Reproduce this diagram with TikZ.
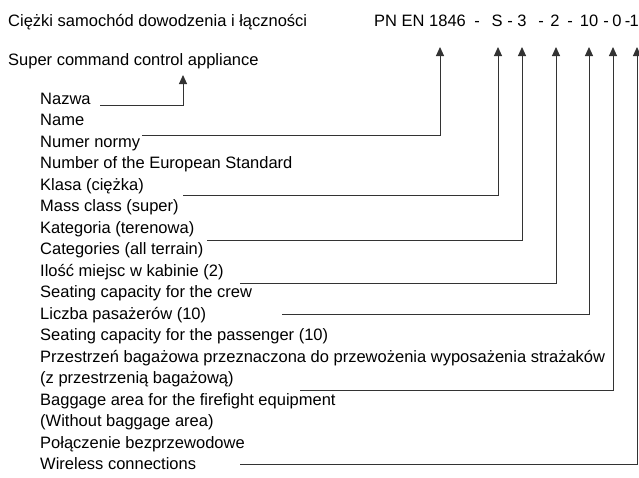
\documentclass[tikz,border=0pt]{standalone}
\usepackage{fontspec}
\setmainfont{Liberation Sans}
\usetikzlibrary{arrows.meta}
\begin{document}
\begin{tikzpicture}[x=1pt,y=-1pt,
  lbl/.style={anchor=base west,inner sep=0pt,font=\fontsize{16.5}{19}\selectfont},
  code/.style={anchor=base,inner sep=0pt,font=\fontsize{16.5}{19}\selectfont},
  conn/.style={draw=black!80,line width=1pt,-{Triangle[length=9pt,width=8pt]}}]
\useasboundingbox (0,0) rectangle (639,477);
% header
\node[lbl] (title) at (8,26) {Ciężki samochód dowodzenia i łączności};
\node[lbl] (sub) at (8,65) {Super command control appliance};
\node[lbl] (pn) at (374,26) {PN EN 1846};
\node[code] (d1) at (477,26) {-};
\node[code] (cS) at (497,26) {S};
\node[code] (d2) at (510,26) {-};
\node[code] (c3) at (522,26) {3};
\node[code] (d3) at (541,26) {-};
\node[code] (c2) at (555,26) {2};
\node[code] (d4) at (570,26) {-};
\node[code] (c10) at (589,26) {10};
\node[code] (d5) at (606,26) {-};
\node[code] (c0) at (617,26) {0};
\node[code] (d6) at (627.5,26) {-};
\node[anchor=base east,inner sep=0pt,font=\fontsize{16.5}{19}\selectfont] (c1) at (639,26) {1};
% list
\node[lbl] (r0) at (40,104) {Nazwa};
\node[lbl] (r1) at (40,125.5) {Name};
\node[lbl] (r2) at (40,147) {Numer normy};
\node[lbl] (r3) at (40,168.5) {Number of the European Standard};
\node[lbl] (r4) at (40,190) {Klasa (ciężka)};
\node[lbl] (r5) at (40,211.5) {Mass class (super)};
\node[lbl] (r6) at (40,233) {Kategoria (terenowa)};
\node[lbl] (r7) at (40,254.5) {Categories (all terrain)};
\node[lbl] (r8) at (40,276) {Ilość miejsc w kabinie (2)};
\node[lbl] (r9) at (40,297.5) {Seating capacity for the crew};
\node[lbl] (r10) at (40,319) {Liczba pasażerów (10)};
\node[lbl] (r11) at (40,340.5) {Seating capacity for the passenger (10)};
\node[lbl] (r12) at (40,362) {Przestrzeń bagażowa przeznaczona do przewożenia wyposażenia strażaków};
\node[lbl] (r13) at (40,383.5) {(z przestrzenią bagażową)};
\node[lbl] (r14) at (40,405) {Baggage area for the firefight equipment};
\node[lbl] (r15) at (40,426.5) {(Without baggage area)};
\node[lbl] (r16) at (40,448) {Połączenie bezprzewodowe};
\node[lbl] (r17) at (40,469.5) {Wireless connections};
% connector ends
\coordinate (s0) at (100,105.5); \coordinate (t0) at (183,75);
\coordinate (s1) at (142,135);   \coordinate (t1) at (440,47);
\coordinate (s2) at (183,195.5); \coordinate (t2) at (498,47);
\coordinate (s3) at (207,240);   \coordinate (t3) at (522,47);
\coordinate (s4) at (240,283.5); \coordinate (t4) at (556,47);
\coordinate (s5) at (282,314);   \coordinate (t5) at (589,47);
\coordinate (s6) at (300,390);   \coordinate (t6) at (613,47);
\coordinate (s7) at (240,464);   \coordinate (t7) at (637,47);
\draw[conn] (s0) -| (t0);
\draw[conn] (s1) -| (t1);
\draw[conn] (s2) -| (t2);
\draw[conn] (s3) -| (t3);
\draw[conn] (s4) -| (t4);
\draw[conn] (s5) -| (t5);
\draw[conn] (s6) -| (t6);
\draw[conn] (s7) -| (t7);
\end{tikzpicture}
\end{document}
